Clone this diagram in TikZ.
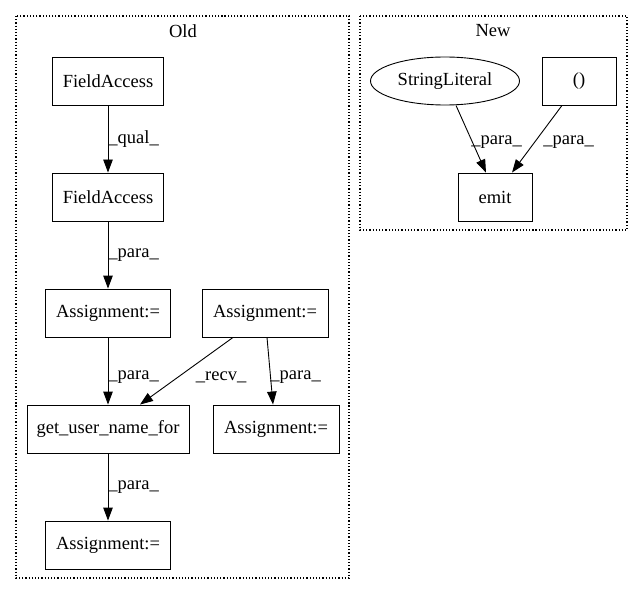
\documentclass[tikz,border=0pt]{standalone}
\usepackage{fontspec}
\setmainfont{Liberation Serif}
\usetikzlibrary{arrows.meta,shapes.geometric}
\begin{document}
\begin{tikzpicture}[x=1bp, y=-1bp, font=\fontsize{18.5bp}{21bp}\selectfont,
    box/.style={draw, line width=0.9bp, minimum height=48bp, inner sep=0pt},
    oval/.style={draw, line width=0.9bp, ellipse, minimum width=149bp, minimum height=48bp, inner sep=0pt},
    edge/.style={-{Triangle[length=13bp, width=9.5bp]}, line width=0.9bp},
    clust/.style={draw, dotted, line width=1.2bp}]
    \useasboundingbox (0,0) rectangle (643,596);
    % Clusters
    \draw [clust] (16,16) rectangle (349,578);
    \draw [clust] (360,16) rectangle (627,230);
    \node (lold) at (183,31) {Old};
    \node (lnew) at (493,31) {New};
    % Old nodes
    \node [box, minimum width=111bp] (fa) at (108,81) {FieldAccess};
    \node [box, minimum width=111bp] (fb) at (108,197) {FieldAccess};
    \node [box, minimum width=125bp] (asa) at (108,313) {Assignment:=};
    \node [box, minimum width=126bp] (asb) at (265,313) {Assignment:=};
    \node [box, minimum width=162bp] (getu) at (108,429) {get\_user\_name\_for};
    \node [box, minimum width=126bp] (asc) at (276,429) {Assignment:=};
    \node [box, minimum width=125bp] (asd) at (108,545) {Assignment:=};
    % New nodes
    \node [oval] (str) at (445,81) {StringLiteral};
    \node [box, minimum width=74bp] (par) at (579,81) {()};
    \node [box, minimum width=74bp] (emit) at (495,197) {emit};
    % Edges
    \draw [edge] (fa) -- node[right, inner sep=0pt] {\_qual\_} (fb);
    \draw [edge] (fb) -- node[right, inner sep=0pt] {\_para\_} (asa);
    \draw [edge] (asa) -- node[right, inner sep=0pt, yshift=-6bp] {\_para\_} (getu);
    \draw [edge] ([xshift=-32bp]asb.south) -- node[right, inner sep=0pt, xshift=9bp, yshift=-6bp] {\_recv\_} ([xshift=32bp]getu.north);
    \draw [edge] ([xshift=2bp]asb.south) -- node[right, inner sep=0pt, yshift=-6bp] {\_para\_} ([xshift=-3bp]asc.north);
    \draw [edge] (getu) -- node[right, inner sep=0pt] {\_para\_} (asd);
    \draw [edge] ([xshift=11bp]str.south) -- node[right, inner sep=0pt, yshift=-3bp] {\_para\_} ([xshift=-9bp]emit.north);
    \draw [edge] ([xshift=-17bp]par.south) -- node[right, inner sep=0pt, xshift=6bp, yshift=-3bp] {\_para\_} ([xshift=17bp]emit.north);
\end{tikzpicture}
\end{document}
